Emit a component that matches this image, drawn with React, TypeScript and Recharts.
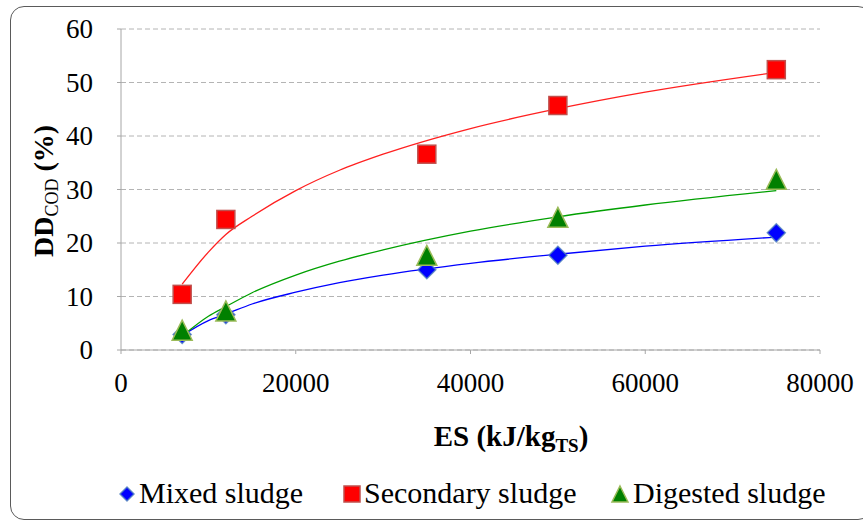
import { ComposedChart, XAxis, YAxis, CartesianGrid, Line, Scatter } from 'recharts'

// measured points (ES in kJ/kg TS, DD COD in %)
const esValues = [7000, 12000, 35000, 50000, 75000]
const mixedValues = [2.9, 6.6, 15.0, 17.7, 21.9]
const secondaryValues = [10.4, 24.4, 36.6, 45.7, 52.4]
const digestedValues = [3.7, 7.3, 17.7, 24.8, 31.9]

// trend curves
const trendEs = [7000, 10000, 12000, 15000, 20000, 25000, 30000, 40000, 50000, 60000, 75000]
const mixedTrend = [2.7, 5.5, 6.7, 8.6, 10.8, 12.6, 14.0, 16.2, 17.9, 19.4, 21.1]
const secondaryTrend = [12.3, 18.3, 21.6, 25.0, 29.8, 33.6, 36.6, 41.4, 45.1, 48.2, 51.9]
const digestedTrend = [2.6, 6.3, 8.1, 10.7, 14.0, 16.6, 18.7, 22.2, 24.9, 27.1, 29.8]

const xTicks = [0, 20000, 40000, 60000, 80000]
const yTicks = [0, 10, 20, 30, 40, 50, 60]

const toPoints = (xs: number[], ys: number[]) => xs.map((x, i) => ({ x, y: ys[i] }))

const SERIF = 'Liberation Serif'

const Diamond = ({ cx, cy, r = 9 }: any) => (
  <path
    d={`M${cx},${cy - r} L${cx + r},${cy} L${cx},${cy + r} L${cx - r},${cy} Z`}
    fill="#0000ff"
    stroke="#4f81bd"
    strokeOpacity={0.8}
    strokeWidth={1.5}
  />
)

const Square = ({ cx, cy, s = 9 }: any) => (
  <rect x={cx - s} y={cy - s} width={s * 2} height={s * 2} fill="#ff0000" stroke="#c0504d" strokeWidth={1.5} />
)

const Triangle = ({ cx, cy, s = 10 }: any) => (
  <path
    d={`M${cx},${cy - s} L${cx + s},${cy + s} L${cx - s},${cy + s} Z`}
    fill="#008000"
    stroke="#9bbb59"
    strokeWidth={1.5}
  />
)

const XTick = ({ x, y, payload }: any) => (
  <text x={x} y={y + 36} textAnchor="middle" fontFamily={SERIF} fontSize={27} fill="#000">
    {payload.value}
  </text>
)

const YTick = ({ x, y, payload }: any) => (
  <text x={x - 22} y={y} dy="0.34em" textAnchor="end" fontFamily={SERIF} fontSize={27} fill="#000">
    {payload.value}
  </text>
)

export default function App() {
  return (
    <div
      style={{
        position: 'fixed',
        left: 0,
        top: 0,
        width: 863,
        height: 520,
        overflow: 'hidden',
        background: '#fff',
        fontFamily: SERIF,
      }}
    >
      <div
        style={{
          position: 'absolute',
          left: 10,
          top: 6,
          width: 860,
          height: 512,
          border: '1.5px solid #5a5a5a',
          borderRadius: 14,
        }}
      />
      <div style={{ position: 'absolute', left: 0, top: 0 }}>
        <ComposedChart width={863} height={520} margin={{ top: 29, right: 43, left: 61, bottom: 130 }}>
          <CartesianGrid vertical={false} stroke="#b4b4b4" strokeDasharray="5 3" />
          <XAxis
            type="number"
            dataKey="x"
            domain={[0, 80000]}
            ticks={xTicks}
            height={40}
            stroke="#a6a6a6"
            tickSize={4}
            tick={<XTick />}
          />
          <YAxis
            type="number"
            dataKey="y"
            domain={[0, 60]}
            ticks={yTicks}
            width={60}
            stroke="#a6a6a6"
            tickSize={4}
            tick={<YTick />}
          />
          <Line data={toPoints(trendEs, mixedTrend)} dataKey="y" type="monotone" stroke="#0000ff" strokeWidth={1.3} dot={false} isAnimationActive={false} />
          <Line data={toPoints(trendEs, digestedTrend)} dataKey="y" type="monotone" stroke="#00a000" strokeWidth={1.3} dot={false} isAnimationActive={false} />
          <Line data={toPoints(trendEs, secondaryTrend)} dataKey="y" type="monotone" stroke="#ff2020" strokeWidth={1.3} dot={false} isAnimationActive={false} />
          <Scatter data={toPoints(esValues, mixedValues)} dataKey="y" shape={(p: any) => <Diamond cx={p.cx} cy={p.cy} />} isAnimationActive={false} />
          <Scatter data={toPoints(esValues, secondaryValues)} dataKey="y" shape={(p: any) => <Square cx={p.cx} cy={p.cy} />} isAnimationActive={false} />
          <Scatter data={toPoints(esValues, digestedValues)} dataKey="y" shape={(p: any) => <Triangle cx={p.cx} cy={p.cy} />} isAnimationActive={false} />
        </ComposedChart>
      </div>
      <svg width={863} height={520} style={{ position: 'absolute', left: 0, top: 0, pointerEvents: 'none' }}>
        <text x={511} y={446} textAnchor="middle" fontFamily={SERIF} fontSize={29} fontWeight="bold" fill="#000">
          ES (kJ/kg<tspan fontSize={19} dy={6}>TS</tspan>
          <tspan dy={-6}>)</tspan>
        </text>
        <text x={53} y={191} transform="rotate(-90 53 191)" textAnchor="middle" fontFamily={SERIF} fontSize={28} fontWeight="bold" fill="#000">
          DD<tspan fontSize={18} fontWeight="normal" dy={5}>COD</tspan>
          <tspan dy={-5}> (%)</tspan>
        </text>
        <g fontFamily={SERIF} fontSize={30} fill="#000">
          <Diamond cx={127} cy={494} r={7} />
          <text x={139} y={503}>Mixed sludge</text>
          <Square cx={352} cy={494} s={8} />
          <text x={364} y={503}>Secondary sludge</text>
          <Triangle cx={620} cy={494} s={8} />
          <text x={633} y={503}>Digested sludge</text>
        </g>
      </svg>
    </div>
  )
}
